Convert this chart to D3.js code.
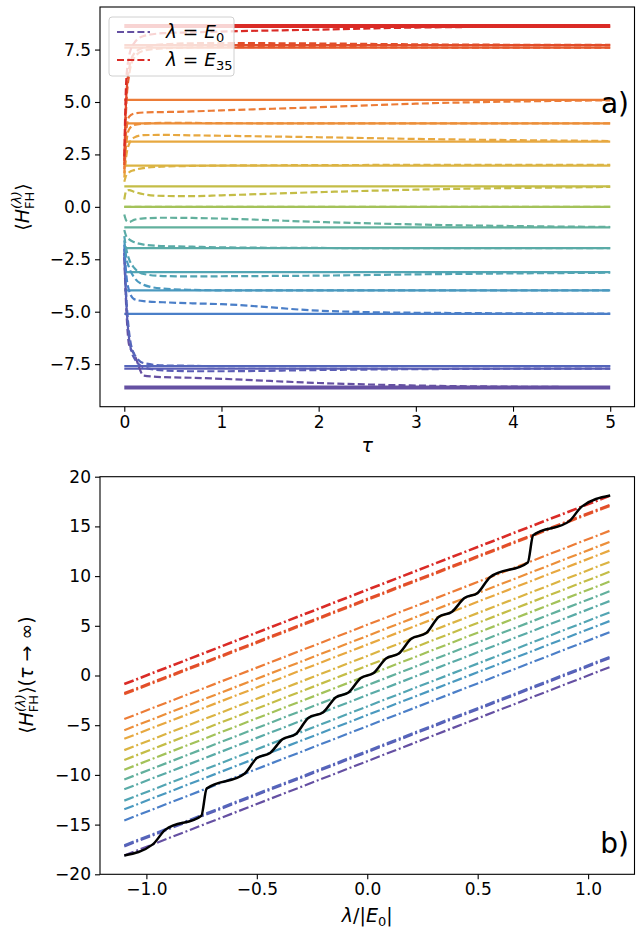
<!DOCTYPE html>
<html>
<head>
<meta charset="utf-8">
<script src="https://cdn.jsdelivr.net/npm/d3@7/dist/d3.min.js"></script>
<style>
  body { margin: 0; background: #fff; }
  svg { display: block; font-family: "DejaVu Sans", sans-serif; }
</style>
</head>
<body>
<div class="fig"></div>
<script>
// ---- data ----
var tau = [0, 0.02, 0.05, 0.1, 0.2, 0.4, 0.7, 1, 2, 3, 5];

// distinct eigenvalues E_k (solid lines in a)
var levels = [-8.62, -7.71, -7.59, -5.10, -3.98, -3.11, -1.97, -0.98, 0.00,
              0.98, 1.97, 3.11, 3.98, 5.10, 7.59, 7.71, 8.62];

// <H_FH> versus tau for each lambda (dashed lines in a), one row per level
var dashed = [
  [-2.4, -4.8, -6.6, -7.0, -8.05, -8.12, -8.15, -8.2, -8.4, -8.52, -8.6],
  [-2.2, -4.5, -6.3, -7.2, -7.65, -7.8, -7.84, -7.84, -7.78, -7.74, -7.71],
  [-2.0, -4.2, -6.0, -7.0, -7.45, -7.56, -7.58, -7.6, -7.6, -7.59, -7.59],
  [-1.8, -3.2, -4.0, -4.4, -4.5, -4.55, -4.6, -4.64, -4.95, -5.05, -5.09],
  [-1.6, -2.4, -2.9, -3.35, -3.72, -3.9, -3.96, -3.98, -3.98, -3.98, -3.98],
  [-1.4, -2.0, -2.5, -2.9, -3.2, -3.3, -3.32, -3.31, -3.28, -3.22, -3.14],
  [-1.1, -1.4, -1.55, -1.68, -1.8, -1.87, -1.9, -1.93, -1.96, -1.97, -1.97],
  [-0.37, -0.65, -0.72, -0.62, -0.55, -0.52, -0.53, -0.56, -0.72, -0.84, -0.96],
  [0, 0, 0, 0, 0, 0, 0, 0, 0, 0, 0],
  [0.35, 0.75, 0.8, 0.72, 0.6, 0.52, 0.51, 0.55, 0.7, 0.82, 0.95],
  [1.2, 1.5, 1.65, 1.75, 1.85, 1.92, 1.95, 1.97, 1.99, 2.0, 2.0],
  [1.4, 2.4, 3.0, 3.3, 3.42, 3.43, 3.41, 3.39, 3.32, 3.24, 3.14],
  [1.6, 3.0, 3.7, 3.9, 3.97, 4.0, 4.0, 3.99, 3.98, 3.98, 3.98],
  [1.8, 3.6, 4.3, 4.45, 4.5, 4.52, 4.55, 4.6, 4.75, 4.92, 5.08],
  [2.0, 4.8, 6.3, 7.1, 7.45, 7.56, 7.6, 7.62, 7.62, 7.6, 7.59],
  [2.2, 5.2, 6.6, 7.3, 7.6, 7.75, 7.8, 7.81, 7.79, 7.75, 7.72],
  [2.4, 6.0, 7.2, 7.8, 8.15, 8.28, 8.32, 8.36, 8.45, 8.55, 8.61]
];

// panel b: dash-dot lines, value at lambda/|E0| = -1.1 and 1.1
var lamEnds = [-1.1, 1.1];
var lineStart = [-18.1, -17.19, -17.07, -14.58, -13.46, -12.59, -11.45, -10.46, -9.48,
                 -8.50, -7.51, -6.37, -5.50, -4.38, -1.89, -1.77, -0.86];
var lineEnd = [0.86, 1.77, 1.89, 4.38, 5.50, 6.37, 7.51, 8.50, 9.48,
               10.46, 11.45, 12.59, 13.46, 14.58, 17.07, 17.19, 18.1];

// black staircase curve
var blackX = [-1.1, -0.971, -0.915, -0.751, -0.727, -0.556, -0.500, -0.440, -0.384, -0.323,
              -0.267, -0.199, -0.143, -0.085, -0.029, 0.029, 0.085, 0.143, 0.199, 0.267,
              0.323, 0.384, 0.440, 0.500, 0.556, 0.727, 0.751, 0.915, 0.971, 1.1];
var blackY = [-18.1, -16.99, -15.53, -14.11, -11.37, -9.89, -8.31, -7.79, -6.42, -5.89,
              -4.27, -3.69, -2.21, -1.71, -0.25, 0.25, 1.71, 2.21, 3.69, 4.27,
              5.89, 6.42, 7.79, 8.31, 9.89, 11.37, 14.11, 15.53, 16.99, 18.1];

var ticksA_x = [0, 1, 2, 3, 4, 5];
var ticksA_y = [-7.5, -5.0, -2.5, 0.0, 2.5, 5.0, 7.5];
var ticksB_x = [-1.0, -0.5, 0.0, 0.5, 1.0];
var ticksB_y = [-20, -15, -10, -5, 0, 5, 10, 15, 20];

// colours, one per level
var palette = ["#6550a2", "#5a5db5", "#5566bb", "#4b7fc8", "#4a99bf", "#52a5b3", "#5aaba7",
               "#62b09d", "#a3c25a", "#c4bd47", "#dbb443", "#e7a840", "#ec8f3a", "#ec7c37",
               "#e5582c", "#e24d2a", "#da2b26"];

var W = 641, H = 931;
var svg = d3.select(".fig").append("svg").attr("width", W).attr("height", H);

var left = 100, right = 634.5;
var fs = 17;

function frame(g, x, y) {
  g.append("rect")
    .attr("x", left).attr("y", y.range()[1])
    .attr("width", right - left).attr("height", y.range()[0] - y.range()[1])
    .attr("fill", "none").attr("stroke", "#000").attr("stroke-width", 1.1);
}

function axes(g, x, y, xt, yt, xfmt, yfmt) {
  var ax = g.append("g").attr("transform", "translate(0," + y.range()[0] + ")")
    .call(d3.axisBottom(x).tickValues(xt).tickFormat(xfmt).tickSize(5).tickPadding(4));
  var ay = g.append("g").attr("transform", "translate(" + left + ",0)")
    .call(d3.axisLeft(y).tickValues(yt).tickFormat(yfmt).tickSize(5).tickPadding(4));
  [ax, ay].forEach(function(a) {
    a.select(".domain").remove();
    a.selectAll("line").attr("stroke", "#000").attr("stroke-width", 1.1);
    a.selectAll("text").attr("font-size", fs).attr("fill", "#000")
      .attr("font-family", "DejaVu Sans");
  });
}

// ---------- panel a ----------
var xa = d3.scaleLinear().domain([-0.25, 5.25]).range([left, right]);
var ya = d3.scaleLinear().domain([-9.53, 9.53]).range([406.7, 7]);
var ga = svg.append("g");

levels.forEach(function(E, i) {
  var w = (i === 0 || i === levels.length - 1) ? 4 : 2.2;
  ga.append("line")
    .attr("x1", xa(0)).attr("x2", xa(5))
    .attr("y1", ya(E)).attr("y2", ya(E))
    .attr("stroke", palette[i]).attr("stroke-width", w);
});

var lineA = d3.line()
  .x(function(d, j) { return xa(tau[j]); })
  .y(function(d) { return ya(d); })
  .curve(d3.curveMonotoneX);

dashed.forEach(function(row, i) {
  ga.append("path")
    .attr("d", lineA(row))
    .attr("fill", "none")
    .attr("stroke", palette[i])
    .attr("stroke-width", 2.2)
    .attr("stroke-dasharray", "7,3.2");
});

frame(ga, xa, ya);
axes(ga, xa, ya, ticksA_x, ticksA_y, d3.format("d"), d3.format(".1f"));

// legend
var lg = ga.append("g");
lg.append("rect").attr("x", 109).attr("y", 17).attr("width", 125).attr("height", 59)
  .attr("rx", 3).attr("fill", "#fff").attr("fill-opacity", 0.8)
  .attr("stroke", "#d0d0d0").attr("stroke-width", 1);
[[0, "0", 32], [levels.length - 1, "35", 60]].forEach(function(e) {
  lg.append("line").attr("x1", 117).attr("x2", 150).attr("y1", e[2]).attr("y2", e[2])
    .attr("stroke", palette[e[0]]).attr("stroke-width", 2).attr("stroke-dasharray", "7,3.2");
  var t = lg.append("text").attr("x", 166).attr("y", e[2] + 6).attr("font-size", 18.5);
  t.append("tspan").attr("font-style", "italic").text("λ");
  t.append("tspan").text(" = ");
  t.append("tspan").attr("font-style", "italic").text("E");
  t.append("tspan").attr("font-size", 13).attr("dy", 4).text(e[1]);
});

ga.append("text").attr("x", 629).attr("y", 113).attr("text-anchor", "end")
  .attr("font-size", 28).text("a)");

ga.append("text").attr("x", xa(2.5)).attr("y", 452).attr("text-anchor", "middle")
  .attr("font-size", 19).attr("font-style", "italic").text("τ");

function hLabel(g, cx, cy, extra) {
  var t = g.append("text").attr("transform", "translate(" + cx + "," + cy + ") rotate(-90)")
    .attr("text-anchor", "middle").attr("font-size", 19);
  t.append("tspan").text("⟨");
  t.append("tspan").attr("font-style", "italic").text("H");
  t.append("tspan").attr("font-size", 13).attr("font-style", "italic").attr("dy", -8).text("(λ)");
  t.append("tspan").attr("font-size", 13).attr("dx", -18).attr("dy", 13).text("FH");
  t.append("tspan").attr("dy", -5).attr("dx", 1).text("⟩");
  if (extra) {
    t.append("tspan").text("(");
    t.append("tspan").attr("font-style", "italic").text("τ");
    t.append("tspan").text(" → ∞)");
  }
}
hLabel(ga, 29, 207, false);

// ---------- panel b ----------
var xb = d3.scaleLinear().domain([-1.21, 1.21]).range([left, right]);
var yb = d3.scaleLinear().domain([-20, 20]).range([874.3, 476.7]);
var gb = svg.append("g");

levels.forEach(function(E, i) {
  var w = (i === levels.length - 1) ? 2.6 : 2.2;
  gb.append("line")
    .attr("x1", xb(lamEnds[0])).attr("x2", xb(lamEnds[1]))
    .attr("y1", yb(lineStart[i])).attr("y2", yb(lineEnd[i]))
    .attr("stroke", palette[i]).attr("stroke-width", w)
    .attr("stroke-dasharray", "10,2.8,2,2.8");
});

gb.append("path")
  .attr("d", d3.line()
    .x(function(d, j) { return xb(d); })
    .y(function(d, j) { return yb(blackY[j]); })
    .curve(d3.curveMonotoneX)(blackX))
  .attr("fill", "none").attr("stroke", "#000").attr("stroke-width", 2.5);

frame(gb, xb, yb);
axes(gb, xb, yb, ticksB_x, ticksB_y, d3.format(".1f"), d3.format("d"));

gb.append("text").attr("x", 629).attr("y", 853).attr("text-anchor", "end")
  .attr("font-size", 28).text("b)");

var xl = gb.append("text").attr("x", xb(0)).attr("y", 922).attr("text-anchor", "middle")
  .attr("font-size", 19);
xl.append("tspan").attr("font-style", "italic").text("λ");
xl.append("tspan").text("/|");
xl.append("tspan").attr("font-style", "italic").text("E");
xl.append("tspan").attr("font-size", 13).attr("dy", 4).text("0");
xl.append("tspan").attr("dy", -4).text("|");

hLabel(gb, 33, 675, true);
</script>
</body>
</html>
